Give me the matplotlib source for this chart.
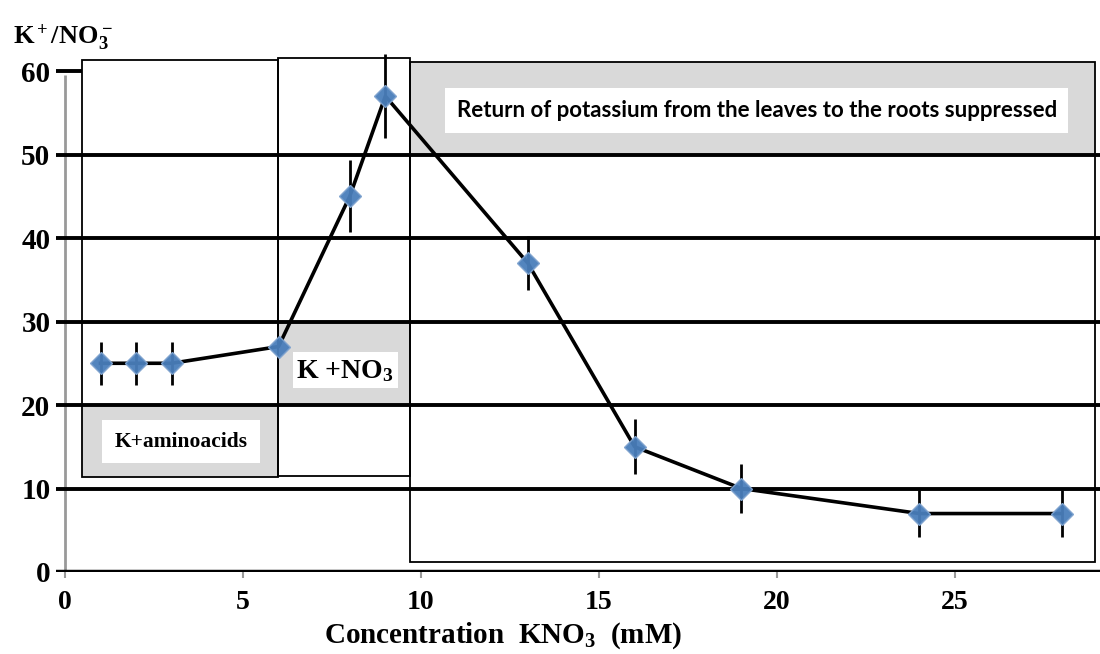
import matplotlib
matplotlib.use("Agg")
import matplotlib.pyplot as plt
from matplotlib.patches import Rectangle

# data
conc = [1, 2, 3, 6, 8, 9, 13, 16, 19, 24, 28]
ratio = [25, 25, 25, 27, 45, 57, 37, 15, 10, 7, 7]
err = [2.6, 2.6, 2.6, 0, 4.3, 5.0, 3.2, 3.3, 2.9, 2.8, 2.8]

x_ticks = [0, 5, 10, 15, 20, 25]
y_grid = [10, 20, 30, 40, 50]
y_ticks = [0, 10, 20, 30, 40, 50, 60]

# annotation boxes: (x0, x1, y0, y1), grey band (y0, y1), white label box, text
zone_labels = ["K+aminoacids", "K +NO$_3$", "Return of potassium from the leaves to the roots suppressed"]
zone_x = [(0.48, 5.98), (5.98, 9.69), (9.69, 28.93)]
zone_y = [(11.4, 61.3), (11.5, 61.6), (1.2, 61.1)]
band_y = [(11.4, 20), (20, 30), (50, 61.1)]
label_x = [(1.04, 5.48), (6.4, 9.35), (10.68, 28.17)]
label_y = [(13.05, 18.2), (22.0, 26.3), (52.6, 58.0)]

plt.rcParams["font.family"] = ["Liberation Serif", "DejaVu Serif"]
plt.rcParams["font.weight"] = "bold"
plt.rcParams["mathtext.fontset"] = "custom"
plt.rcParams["mathtext.rm"] = "Liberation Serif:bold"
plt.rcParams["mathtext.it"] = "Liberation Serif:bold"
plt.rcParams["mathtext.bf"] = "Liberation Serif:bold"

fig = plt.figure(figsize=(11, 6.54), dpi=100)
ax = fig.add_axes([56 / 1100, 82 / 654, 1044 / 1100, 526 / 654])
xmin, xmax = -0.25, 29.07
ax.set_xlim(xmin, xmax)
ax.set_ylim(0, 63)
for s in ax.spines.values():
    s.set_visible(False)

grey = "#d9d9d9"
for i in range(3):
    (bx0, bx1), (by0, by1) = zone_x[i], zone_y[i]
    ax.add_patch(Rectangle((bx0, band_y[i][0]), bx1 - bx0, band_y[i][1] - band_y[i][0],
                           facecolor=grey, edgecolor="none", zorder=1))
    ax.add_patch(Rectangle((bx0, by0), bx1 - bx0, by1 - by0, fill=False,
                           edgecolor="black", lw=1.3, zorder=2, clip_on=False))
    lx, ly = label_x[i], label_y[i]
    ax.add_patch(Rectangle((lx[0], ly[0]), lx[1] - lx[0], ly[1] - ly[0],
                           facecolor="white", edgecolor="none", zorder=3))

ax.text(3.26, 15.6, zone_labels[0], ha="center", va="center", fontsize=15.5, zorder=4)
ax.text(7.85, 24.1, zone_labels[1], ha="center", va="center", fontsize=20, zorder=4)
ax.text(19.45, 55.3, zone_labels[2], ha="center", va="center", fontsize=16,
        family=["Lato", "DejaVu Sans"], fontweight="bold", zorder=4)

# grid lines and axes
ax.hlines(y_grid, xmin, xmax, colors="black", lw=2.8, zorder=2.5)
ax.hlines(0, xmin, xmax, colors="black", lw=3.2, zorder=2.5)
ax.hlines(60, xmin, 0.48, colors="black", lw=2.8, zorder=2.5)
ax.vlines(0, 0, 59.5, colors="#999999", lw=2, zorder=1.5)

ax.plot(conc, ratio, color="black", lw=2.6, zorder=5)
ax.errorbar(conc, ratio, yerr=err, fmt="none", ecolor="black", elinewidth=2, capsize=0, zorder=6)
ax.plot(conc, ratio, ls="none", marker="D", ms=11, color="#4a7ebb",
        markeredgecolor="#7fa3cf", markeredgewidth=1, alpha=0.95, zorder=7)

ax.set_xticks(x_ticks)
ax.set_yticks(y_ticks)
ax.tick_params(axis="x", length=4, width=1.5, color="#999999", pad=9, labelsize=20)
ax.tick_params(axis="y", length=0, pad=4, labelsize=21)

fig.text(503 / 1100, 11 / 654, "Concentration  KNO$_3$  (mM)", ha="center", va="baseline", fontsize=21)
fig.text(13 / 1100, 611 / 654, "K$^+$/NO$_3^-$", ha="left", va="baseline", fontsize=19)

fig.savefig("out.png", dpi=100)
